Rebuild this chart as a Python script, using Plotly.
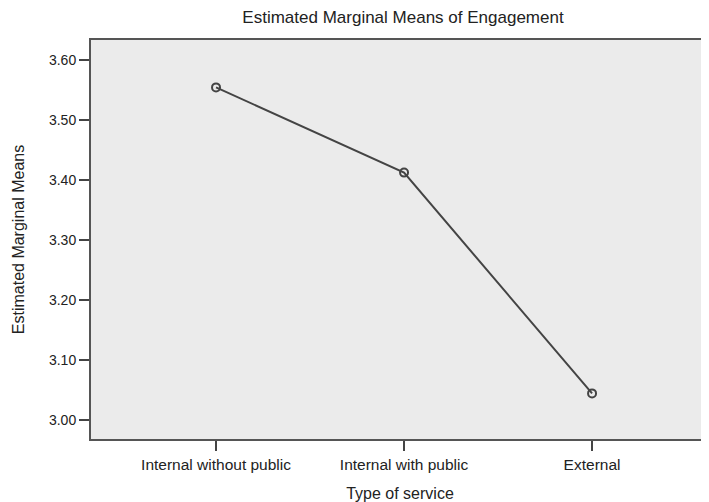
import plotly.graph_objects as go

categories = ["Internal without public", "Internal with public", "External"]
means = [3.554, 3.412, 3.044]
y_ticks = [3.00, 3.10, 3.20, 3.30, 3.40, 3.50, 3.60]
y_tick_labels = ["3.00", "3.10", "3.20", "3.30", "3.40", "3.50", "3.60"]

font = "Liberation Sans, Arial, sans-serif"
W, H = 701, 494  # page body has an 8px margin

fig = go.Figure()
fig.add_trace(go.Scatter(
    x=categories, y=means, mode="lines+markers",
    line=dict(color="#444444", width=2),
    marker=dict(symbol="circle-open", size=8, color="#444444", line=dict(width=2)),
    showlegend=False,
))

fig.update_layout(
    width=W, height=H,
    margin=dict(l=83, r=0, t=32, b=63),
    paper_bgcolor="white",
    plot_bgcolor="#ebebeb",
    font=dict(family=font, size=14, color="#222222"),
    title=dict(text="Estimated Marginal Means of Engagement", x=(403 - 8) / W, xanchor="center",
               y=1 - 9 / H, yanchor="middle", font=dict(size=17, color="#222222")),
)
fig.update_xaxes(
    type="category", range=[-0.665, 2.622],
    showgrid=False, zeroline=False,
    showline=True, linecolor="#555555", linewidth=2, mirror=True,
    ticks="outside", ticklen=10, tickwidth=2, tickcolor="#444444",
    tickfont=dict(size=15.5, color="#222222"),
    title=dict(text="Type of service", font=dict(size=16, color="#222222"), standoff=16),
)
fig.update_yaxes(
    range=[2.968, 3.633],
    tickvals=y_ticks, ticktext=y_tick_labels,
    showgrid=False, zeroline=False,
    showline=True, linecolor="#555555", linewidth=2,
    ticks="outside", ticklen=10, tickwidth=2, tickcolor="#444444",
    tickfont=dict(size=14, color="#222222"),
    title=dict(text="Estimated Marginal Means", font=dict(size=16, color="#222222"), standoff=20),
)

fig.write_html("out.html")
